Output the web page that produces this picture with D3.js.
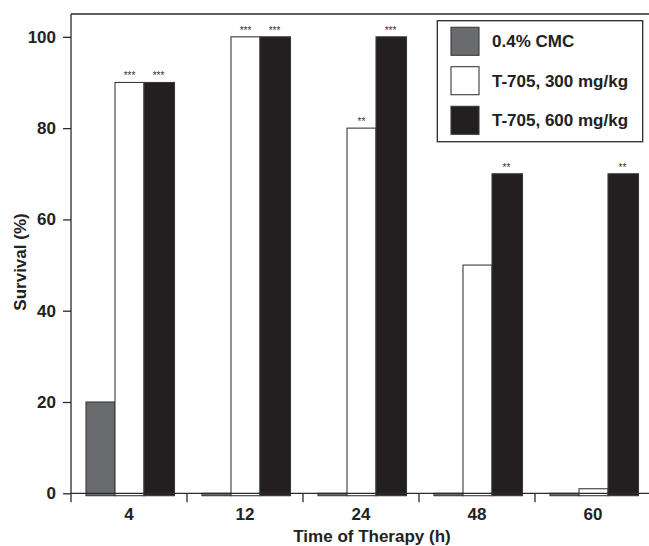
<!DOCTYPE html>
<html>
<head>
<meta charset="utf-8">
<script src="https://cdn.jsdelivr.net/npm/d3@7"></script>
<style>
  html, body { margin: 0; padding: 0; background: #fff; }
  svg { display: block; font-family: "Liberation Sans", Arial, Helvetica, sans-serif; }
</style>
</head>
<body>
<svg id="chart" width="649" height="546"></svg>
<script>
const categories = ["4", "12", "24", "48", "60"];
const seriesNames = ["0.4% CMC", "T-705, 300 mg/kg", "T-705, 600 mg/kg"];
const cmcValues = [20, 0, 0, 0, 0];
const t300Values = [90, 100, 80, 50, 1];
const t600Values = [90, 100, 100, 70, 70];
const t300Stars = ["***", "***", "**", "", ""];
const t600Stars = ["***", "***", "***", "**", "**"];
const yTicks = [0, 20, 40, 60, 80, 100];

const seriesValues = [cmcValues, t300Values, t600Values];
const seriesStars = [null, t300Stars, t600Stars];
const fills = ["#6a6b6e", "#ffffff", "#231f20"];
const ink = "#2a2a2a";

const svg = d3.select("#chart");
const pL = 71, pR = 651, pT = 14, pB = 493.3;

const x = d3.scaleBand().domain(categories).range([pL, pR]).padding(0);
const xInner = d3.scaleBand().domain(seriesNames).range([15, 102]).padding(0);
const y = d3.scaleLinear().domain([0, 105]).range([pB, pT]);

// bars
const g = svg.append("g");
seriesNames.forEach((s, si) => {
  g.selectAll(null)
    .data(categories)
    .enter()
    .append("rect")
    .attr("x", c => x(c) + xInner(s))
    .attr("y", (c, i) => y(seriesValues[si][i]))
    .attr("width", xInner.bandwidth() + (si === 2 ? 1.5 : 0))
    .attr("height", (c, i) => y(0) - y(seriesValues[si][i]) + 2.4)
    .attr("fill", fills[si])
    .attr("stroke", "#3a3a3a")
    .attr("stroke-width", 1.1);
  if (seriesStars[si]) {
    g.selectAll(null)
      .data(categories)
      .enter()
      .append("text")
      .attr("x", c => x(c) + xInner(s) + xInner.bandwidth() / 2)
      .attr("y", (c, i) => y(seriesValues[si][i]) - 3)
      .attr("text-anchor", "middle")
      .attr("font-size", 10)
      .attr("fill", "#333")
      .text((c, i) => seriesStars[si][i]);
  }
});

// frame top line
svg.append("line")
  .attr("x1", pL).attr("x2", pR).attr("y1", pT).attr("y2", pT)
  .attr("stroke", ink).attr("stroke-width", 1.3);

// y axis
const yAxis = d3.axisLeft(y).tickValues(yTicks).tickSize(8).tickPadding(7).tickFormat(d3.format("d"));
const ya = svg.append("g").attr("transform", `translate(${pL},0)`).call(yAxis);
ya.select(".domain").remove();
ya.selectAll(".tick line").attr("stroke", ink).attr("stroke-width", 1.3);
ya.selectAll(".tick text").attr("font-size", 17).attr("font-weight", "bold").attr("fill", "#222").attr("font-family", "Liberation Sans, Arial, sans-serif");
svg.append("line")
  .attr("x1", pL).attr("x2", pL).attr("y1", pT).attr("y2", pB + 9)
  .attr("stroke", ink).attr("stroke-width", 1.3);

// x axis
svg.append("line")
  .attr("x1", pL).attr("x2", pR).attr("y1", pB).attr("y2", pB)
  .attr("stroke", ink).attr("stroke-width", 1.3);
const xa = svg.append("g").attr("transform", `translate(0,${pB})`)
  .call(d3.axisBottom(x).tickSize(0).tickPadding(15));
xa.select(".domain").remove();
xa.selectAll(".tick text").attr("font-size", 17).attr("font-weight", "bold").attr("fill", "#222").attr("font-family", "Liberation Sans, Arial, sans-serif");
// boundary ticks
svg.append("g").selectAll("line")
  .data(categories)
  .enter().append("line")
  .attr("x1", c => x(c) + x.bandwidth())
  .attr("x2", c => x(c) + x.bandwidth())
  .attr("y1", pB).attr("y2", pB + 9)
  .attr("stroke", ink).attr("stroke-width", 1.3);

// axis titles
svg.append("text")
  .attr("x", 372).attr("y", 541.5)
  .attr("text-anchor", "middle")
  .attr("font-size", 17).attr("font-weight", "bold").attr("fill", "#222")
  .text("Time of Therapy (h)");
svg.append("text")
  .attr("transform", "translate(26,262) rotate(-90)")
  .attr("text-anchor", "middle")
  .attr("font-size", 17).attr("font-weight", "bold").attr("fill", "#222")
  .text("Survival (%)");

// legend
const lg = svg.append("g");
lg.append("rect")
  .attr("x", 437.3).attr("y", 20.7).attr("width", 205.4).attr("height", 121)
  .attr("fill", "#fff").attr("stroke", ink).attr("stroke-width", 1.3);
const rowY = [27.3, 66.7, 106.3];
seriesNames.forEach((s, i) => {
  lg.append("rect")
    .attr("x", 451).attr("y", rowY[i]).attr("width", 28).attr("height", 28)
    .attr("fill", fills[i]).attr("stroke", "#3a3a3a").attr("stroke-width", 1.1);
  lg.append("text")
    .attr("x", 492).attr("y", rowY[i] + 14).attr("dy", "0.36em")
    .attr("font-size", 17).attr("font-weight", "bold").attr("fill", "#222")
    .text(s);
});
</script>
</body>
</html>
